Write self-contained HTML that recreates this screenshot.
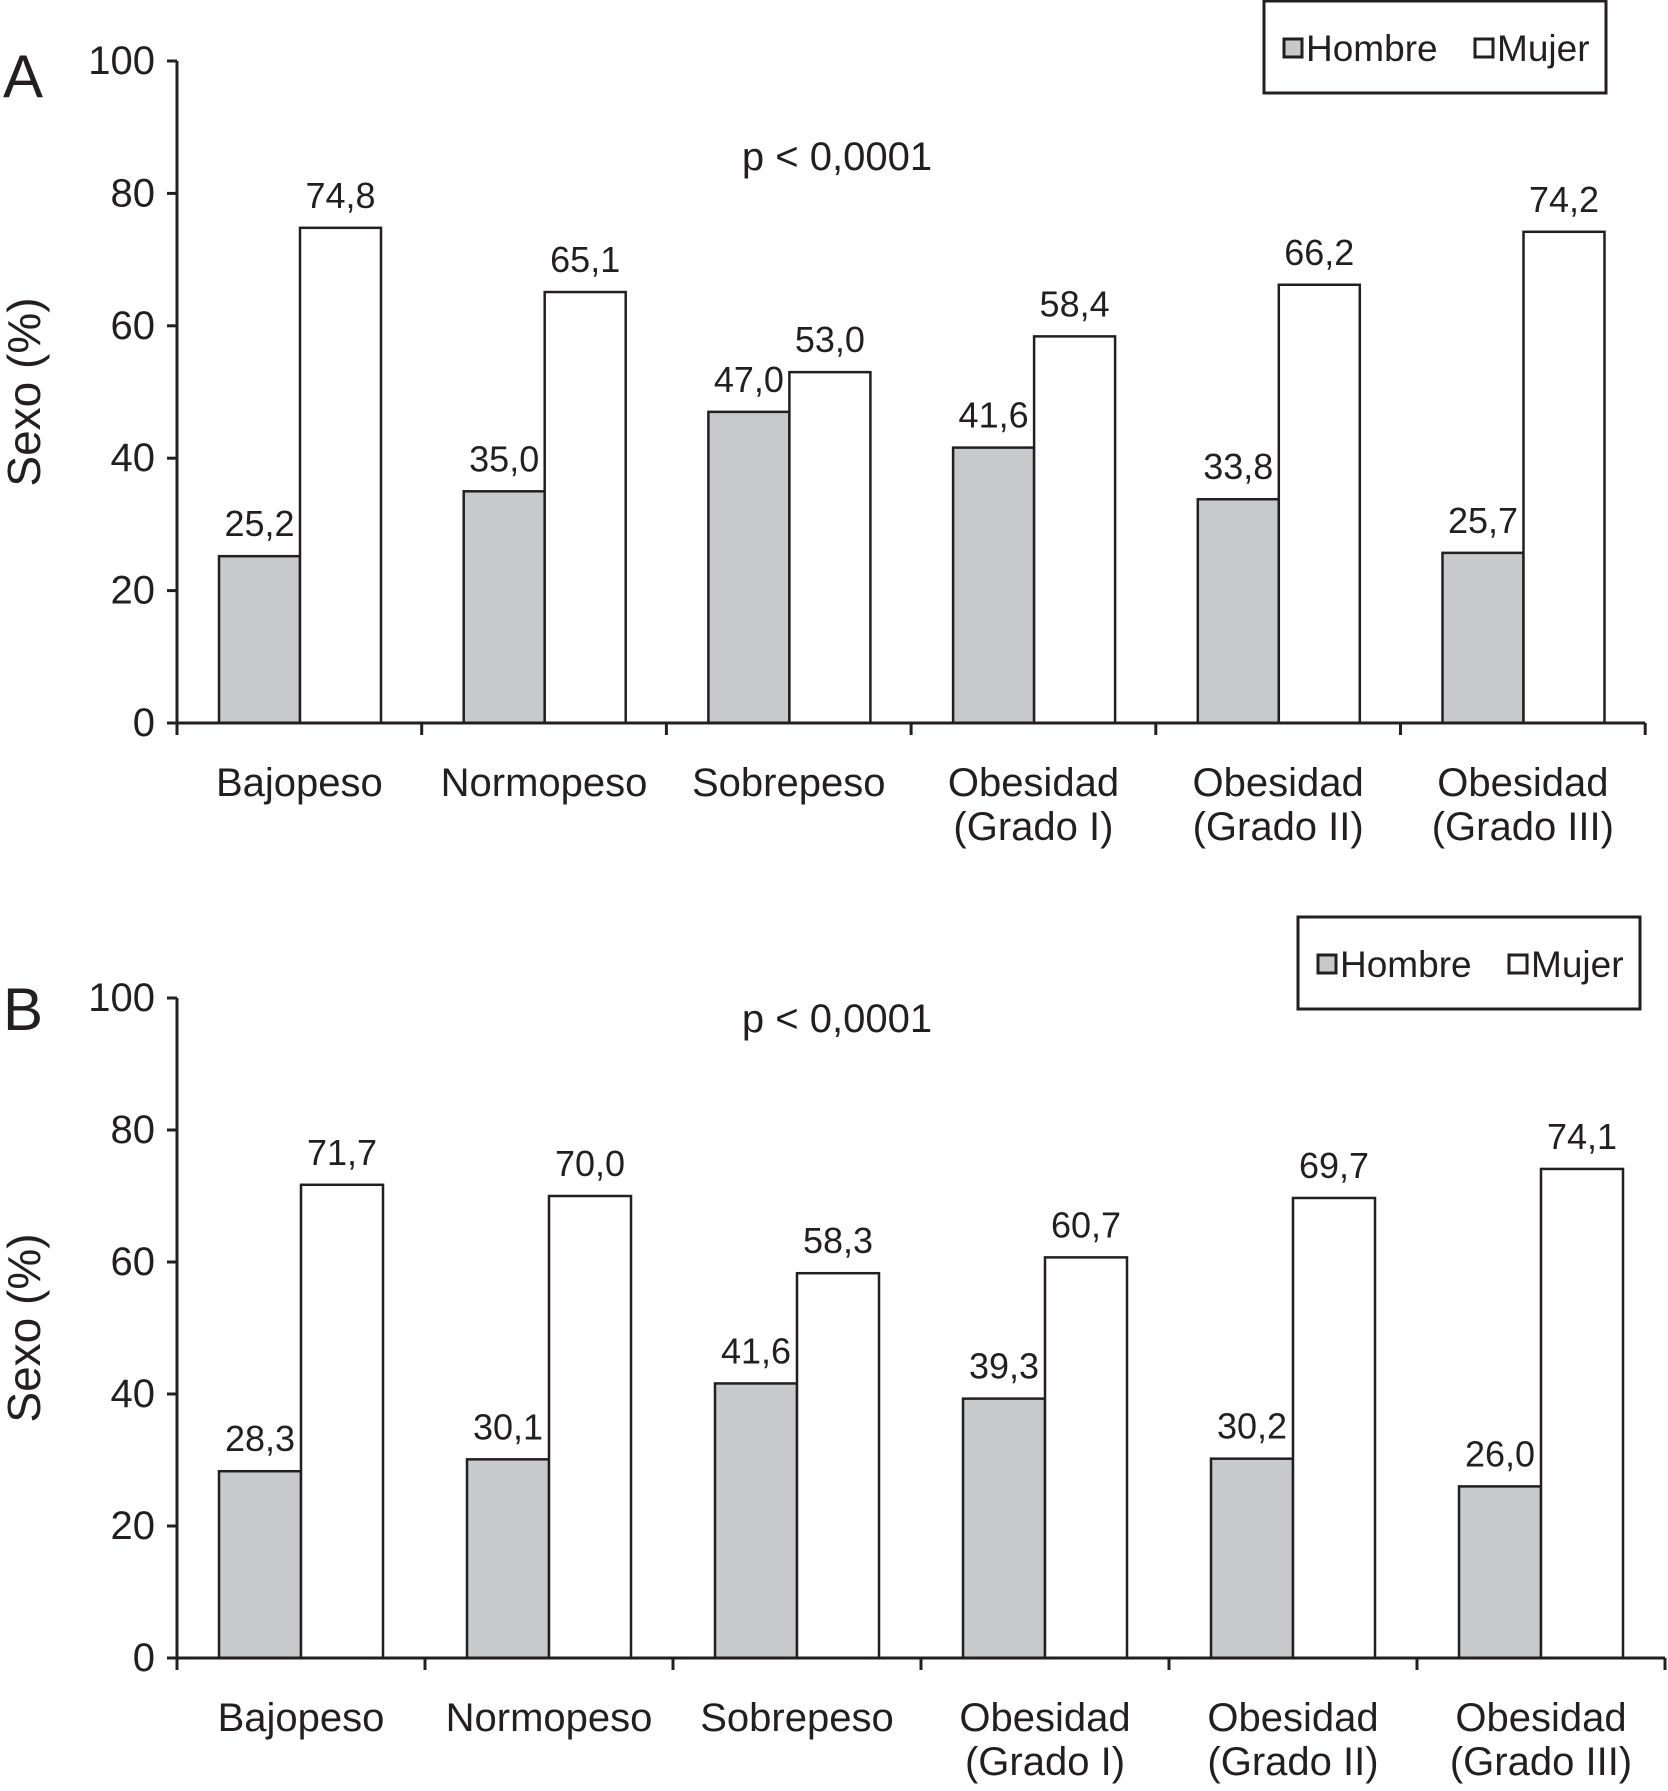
<!DOCTYPE html>
<html><head><meta charset="utf-8"><style>
html,body{margin:0;padding:0;background:#fff;}
svg{display:block;font-family:"Liberation Sans",Arial,sans-serif;}
</style></head><body>
<svg id="chart" width="1668" height="1791" viewBox="0 0 1668 1791" xmlns="http://www.w3.org/2000/svg">
<rect width="1668" height="1791" fill="#fff"/>
</svg>
<script>
const categories = [["Bajopeso"],["Normopeso"],["Sobrepeso"],["Obesidad","(Grado I)"],["Obesidad","(Grado II)"],["Obesidad","(Grado III)"]];
const hombreA = [25.2, 35.0, 47.0, 41.6, 33.8, 25.7];
const mujerA = [74.8, 65.1, 53.0, 58.4, 66.2, 74.2];
const hombreB = [28.3, 30.1, 41.6, 39.3, 30.2, 26.0];
const mujerB = [71.7, 70.0, 58.3, 60.7, 69.7, 74.1];
const yTicks = [0, 20, 40, 60, 80, 100];
const NS = "http://www.w3.org/2000/svg";
const svg = document.getElementById('chart');
function el(tag, attrs, parent, text){
  const e = document.createElementNS(NS, tag);
  for (const k in attrs) e.setAttribute(k, attrs[k]);
  if (text !== undefined) e.textContent = text;
  (parent || svg).appendChild(e);
  return e;
}
function fmt(v){ return v.toFixed(1).replace('.', ','); }

function panel(p){
  const g = el('g', {});
  
  
  const y = v => p.y0 - (p.y0 - p.y100) * v / 100;
  const catX = i => p.x0 + p.step * i;
  const L = el('text', {x: 3, y: p.letterY, 'font-size': 60, fill: '#231f20'}, g, p.letter);
  
  
  const yt = el('text', {x: 0, y: 0, 'font-size': 46, fill: '#231f20', 'text-anchor': 'middle', transform: `translate(${p.titleX},${(p.y0+p.y100)/2}) rotate(-90)`}, g, 'Sexo (%)');
  
  
  categories.forEach((c, i) => {
    const bx = catX(i) + p.off;
    const h = p.hombre[i], m = p.mujer[i];
    const r1 = el('rect', {x: bx, y: y(h), width: p.bw, height: y(0) - y(h), fill: '#c8c9cb', stroke: '#231f20', 'stroke-width': 2.5}, g);
    
    
    const r2 = el('rect', {x: bx + p.bw, y: y(m), width: p.bw, height: y(0) - y(m), fill: '#fff', stroke: '#231f20', 'stroke-width': 2.5}, g);
    
    
    const t1 = el('text', {x: bx + p.bw/2, y: y(h) - 20, 'font-size': 36, 'text-anchor': 'middle', fill: '#231f20'}, g, fmt(h));
    
    
    const t2 = el('text', {x: bx + p.bw*1.5, y: y(m) - 20, 'font-size': 36, 'text-anchor': 'middle', fill: '#231f20'}, g, fmt(m));
    
    
    c.forEach((line, j) => {
      const ct = el('text', {x: catX(i) + p.step/2, y: p.catY + j*44, 'font-size': 40, 'text-anchor': 'middle', fill: '#231f20'}, g, line);
      
      
    });
  });
  const ya = el('line', {x1: p.x0, y1: p.y100, x2: p.x0, y2: p.y0, stroke: '#231f20', 'stroke-width': 3}, g);
  
  
  const xa = el('line', {x1: p.x0, y1: p.y0, x2: p.x0 + p.step*6, y2: p.y0, stroke: '#231f20', 'stroke-width': 3}, g);
  
  
  yTicks.forEach(t => {
    el('line', {x1: p.x0 - 10, y1: y(t), x2: p.x0, y2: y(t), stroke: '#231f20', 'stroke-width': 3}, g);
    const tl = el('text', {x: p.x0 - 22, y: y(t) + 13, 'font-size': 40, 'text-anchor': 'end', fill: '#231f20'}, g, String(t));
    
    
  });
  for (let i = 0; i <= 6; i++) el('line', {x1: catX(i), y1: p.y0, x2: catX(i), y2: p.y0 + 12, stroke: '#231f20', 'stroke-width': 3}, g);
  const pv = el('text', {x: 837, y: p.pY, 'font-size': 40, 'text-anchor': 'middle', fill: '#231f20'}, g, 'p < 0,0001');
  
  
  const lg = el('g', {}, g);
  
  
  el('rect', {x: p.lx, y: p.ly, width: 342, height: 92, fill: '#fff', stroke: '#231f20', 'stroke-width': 3}, lg);
  el('rect', {x: p.lx + 20, y: p.ly + 38, width: 18, height: 18, fill: '#c8c9cb', stroke: '#231f20', 'stroke-width': 3}, lg);
  const le1 = el('text', {x: p.lx + 42, y: p.ly + 60, 'font-size': 37, fill: '#231f20'}, lg, 'Hombre');
  
  
  el('rect', {x: p.lx + 211, y: p.ly + 38, width: 18, height: 18, fill: '#fff', stroke: '#231f20', 'stroke-width': 3}, lg);
  const le2 = el('text', {x: p.lx + 233, y: p.ly + 60, 'font-size': 37, fill: '#231f20'}, lg, 'Mujer');
  
  
}

panel({letter:'A', letterY: 97, titleX: 40, x0: 177, step: 244.7, off: 42, bw: 81, y0: 723, y100: 61, catY: 796, pY: 170, lx: 1264, ly: 1, hombre: hombreA, mujer: mujerA});
panel({letter:'B', letterY: 1030, titleX: 40, x0: 177, step: 248, off: 42, bw: 82, y0: 1658, y100: 998, catY: 1731, pY: 1032, lx: 1298, ly: 917, hombre: hombreB, mujer: mujerB});
</script>
</body></html>
